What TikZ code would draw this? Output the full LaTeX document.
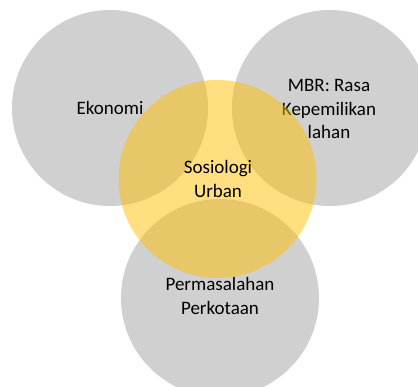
\documentclass[tikz,border=0pt]{standalone}
\usepackage{fontspec}
\setmainfont{Carlito}
\definecolor{circgray}{HTML}{D0D0D0}
\definecolor{gold}{HTML}{FFC000}
\tikzset{
  graycirc/.style={circle, fill=circgray, draw=none, minimum size=196pt, inner sep=0pt},
  goldcirc/.style={circle, fill=gold, fill opacity=0.5, draw=none, minimum size=198pt, inner sep=0pt},
  lbl/.style={align=center, font=\fontsize{19}{23.5}\selectfont, text=black}
}
\begin{document}
\begin{tikzpicture}[x=1pt,y=-1pt]
\useasboundingbox (0,0) rectangle (418,387);
\node[graycirc] (eko) at (110,108) {};
\node[graycirc] (mbr) at (330,108) {};
\node[graycirc, minimum size=198pt] (per) at (220,298) {};
\node[lbl] (ekot) at (110,108) {Ekonomi};
\node[lbl] (mbrt) at (329,109) {MBR: Rasa\\Kepemilikan\\lahan};
\node[lbl] (pert) at (220,296) {Permasalahan\\Perkotaan};
\node[goldcirc] (sos) at (217.5,179) {};
\node[lbl] (sost) at (218,179) {Sosiologi\\Urban};
\end{tikzpicture}
\end{document}
